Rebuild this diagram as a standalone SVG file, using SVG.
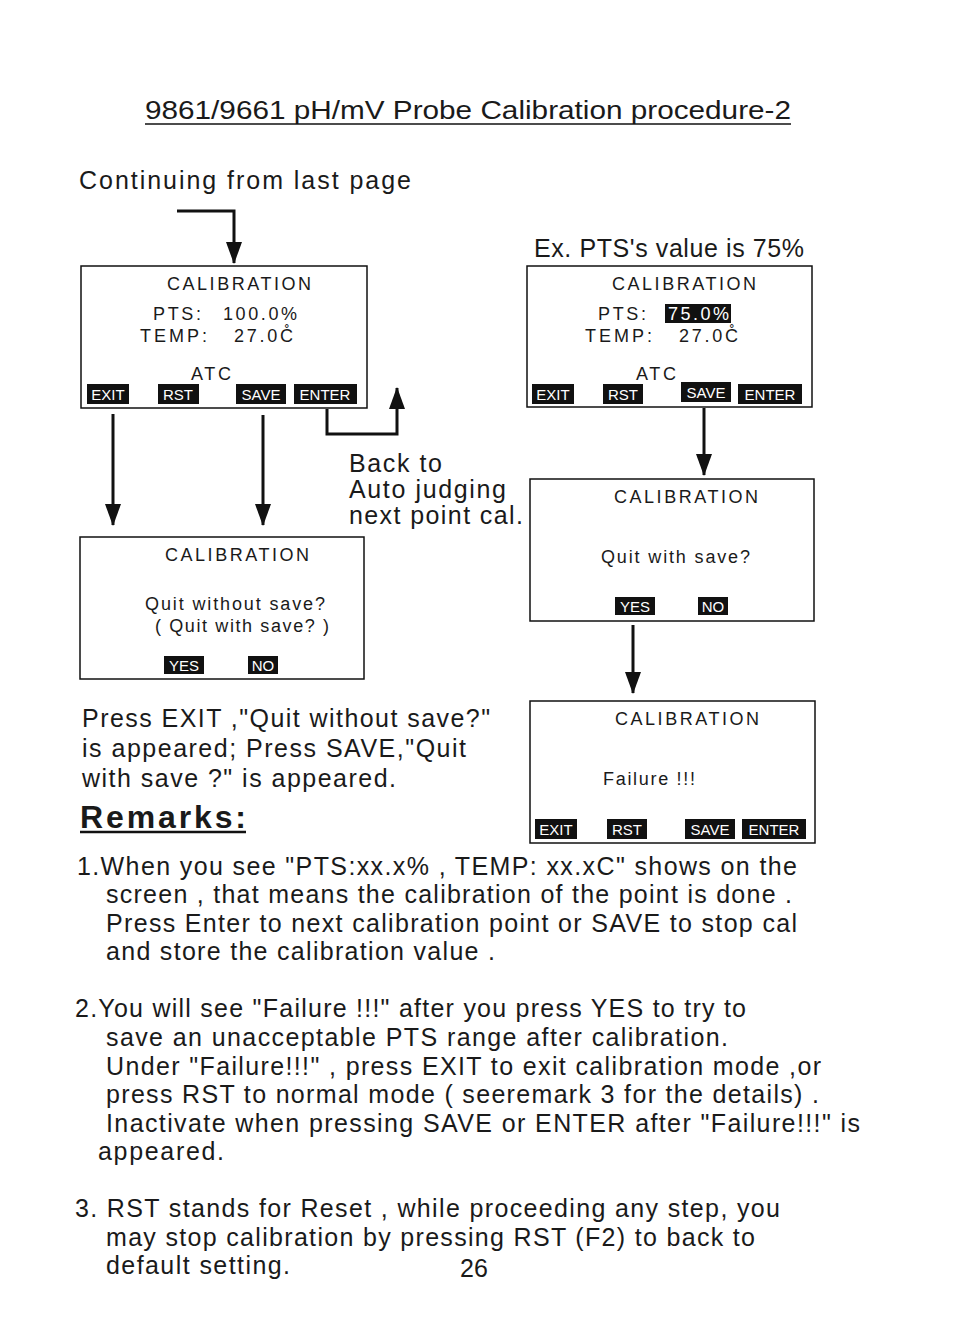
<svg xmlns="http://www.w3.org/2000/svg" width="954" height="1344" viewBox="0 0 954 1344">
<defs>
<marker id="ah" viewBox="0 0 22 16" refX="21" refY="8" markerWidth="22" markerHeight="16" markerUnits="userSpaceOnUse" orient="auto">
<path d="M0,0 L22,8 L0,16 z" fill="#111"/>
</marker>
<style>
text{font-family:"Liberation Sans",Arial,sans-serif;fill:#1a1a1a}
.big{font-size:25px}
.lcd{font-size:18px}
.btn{font-size:15px;fill:#fff;text-anchor:middle}
.bb{fill:#111}
.box{fill:#fff;stroke:#111;stroke-width:1.5}
.con{fill:none;stroke:#111;stroke-width:3}
</style>
</defs>
<rect width="954" height="1344" fill="#fff"/>

<g id="title">
<text x="145" y="119" class="big" textLength="646" lengthAdjust="spacingAndGlyphs">9861/9661 pH/mV  Probe Calibration procedure-2</text>
<line x1="145" y1="124" x2="791" y2="124" stroke="#111" stroke-width="1.5"/>
<text x="79" y="189" class="big" textLength="332">Continuing from last page</text>
</g>

<g id="connectors">
<path class="con" d="M177,211 H234 V263" marker-end="url(#ah)"/>
<path class="con" d="M113,414 V525" marker-end="url(#ah)"/>
<path class="con" d="M263,415 V525" marker-end="url(#ah)"/>
<path class="con" d="M327,409 V434 H397 V388" marker-end="url(#ah)"/>
<path class="con" d="M704,408 V475" marker-end="url(#ah)"/>
<path class="con" d="M633,625 V693" marker-end="url(#ah)"/>
</g>

<g id="box1">
<rect class="box" x="81" y="266" width="286" height="142"/>
<text x="167" y="290" class="lcd" textLength="144">CALIBRATION</text>
<text x="153" y="320" class="lcd" textLength="48">PTS:</text>
<text x="223" y="320" class="lcd" textLength="74">100.0%</text>
<text x="140" y="342" class="lcd" textLength="67">TEMP:</text>
<text x="234" y="342" class="lcd" textLength="59">27.0C&#778;</text>
<text x="191" y="380" class="lcd" textLength="40">ATC</text>
<rect class="bb" x="87" y="384" width="42" height="20"/><text class="btn" x="108" y="400">EXIT</text>
<rect class="bb" x="158" y="384" width="41" height="20"/><text class="btn" x="178" y="400">RST</text>
<rect class="bb" x="236" y="384" width="50" height="20"/><text class="btn" x="261" y="400">SAVE</text>
<rect class="bb" x="294" y="384" width="63" height="20"/><text class="btn" x="325" y="400">ENTER</text>
</g>

<g id="backto">
<text x="349" y="472" class="big" textLength="93">Back to</text>
<text x="349" y="498" class="big" textLength="157">Auto judging</text>
<text x="349" y="524" class="big" textLength="174">next point cal.</text>
</g>

<g id="box2">
<rect class="box" x="80" y="537" width="284" height="142"/>
<text x="165" y="561" class="lcd" textLength="144">CALIBRATION</text>
<text x="145" y="610" class="lcd" textLength="180">Quit without save?</text>
<text x="155" y="632" class="lcd" textLength="174">( Quit with save? )</text>
<rect class="bb" x="164" y="656" width="40" height="18"/><text class="btn" x="184" y="671">YES</text>
<rect class="bb" x="248" y="656" width="30" height="18"/><text class="btn" x="263" y="671">NO</text>
</g>

<g id="box3">
<text x="534" y="257" class="big" textLength="270">Ex. PTS's value is 75%</text>
<rect class="box" x="527" y="266" width="285" height="141"/>
<text x="612" y="290" class="lcd" textLength="144">CALIBRATION</text>
<text x="598" y="320" class="lcd" textLength="48">PTS:</text>
<rect class="bb" x="665" y="304" width="66" height="19"/>
<text x="668" y="320" class="lcd" style="fill:#fff" textLength="61">75.0%</text>
<text x="585" y="342" class="lcd" textLength="67">TEMP:</text>
<text x="679" y="342" class="lcd" textLength="59">27.0C&#778;</text>
<text x="636" y="380" class="lcd" textLength="40">ATC</text>
<rect class="bb" x="532" y="384" width="42" height="20"/><text class="btn" x="553" y="400">EXIT</text>
<rect class="bb" x="603" y="384" width="40" height="20"/><text class="btn" x="623" y="400">RST</text>
<rect class="bb" x="681" y="382" width="50" height="20"/><text class="btn" x="706" y="398">SAVE</text>
<rect class="bb" x="738" y="384" width="64" height="20"/><text class="btn" x="770" y="400">ENTER</text>
</g>

<g id="box4">
<rect class="box" x="530" y="479" width="284" height="142"/>
<text x="614" y="503" class="lcd" textLength="144">CALIBRATION</text>
<text x="601" y="563" class="lcd" textLength="149">Quit with save?</text>
<rect class="bb" x="615" y="597" width="40" height="18"/><text class="btn" x="635" y="612">YES</text>
<rect class="bb" x="698" y="597" width="30" height="18"/><text class="btn" x="713" y="612">NO</text>
</g>

<g id="box5">
<rect class="box" x="530" y="701" width="285" height="142"/>
<text x="615" y="725" class="lcd" textLength="144">CALIBRATION</text>
<text x="603" y="785" class="lcd" textLength="92">Failure !!!</text>
<rect class="bb" x="535" y="819" width="42" height="20"/><text class="btn" x="556" y="835">EXIT</text>
<rect class="bb" x="607" y="819" width="40" height="20"/><text class="btn" x="627" y="835">RST</text>
<rect class="bb" x="685" y="819" width="50" height="20"/><text class="btn" x="710" y="835">SAVE</text>
<rect class="bb" x="742" y="819" width="64" height="20"/><text class="btn" x="774" y="835">ENTER</text>
</g>

<g id="note">
<text x="82" y="727" class="big" textLength="408">Press EXIT ,"Quit without save?"</text>
<text x="82" y="757" class="big" textLength="384">is appeared; Press SAVE,"Quit</text>
<text x="82" y="787" class="big" textLength="314">with save ?" is appeared.</text>
</g>

<g id="remarks">
<text x="80" y="828" style="font-size:32px;font-weight:bold" textLength="166">Remarks:</text>
<line x1="80" y1="832" x2="246" y2="832" stroke="#111" stroke-width="2.5"/>
<text x="77" y="875" class="big" textLength="720">1.When you see "PTS:xx.x% , TEMP: xx.xC" shows on the</text>
<text x="106" y="903" class="big" textLength="686">screen , that means the calibration of the point is done .</text>
<text x="106" y="932" class="big" textLength="691">Press Enter to next calibration point or SAVE to stop cal</text>
<text x="106" y="960" class="big" textLength="389">and store the calibration value .</text>
<text x="75" y="1017" class="big" textLength="671">2.You will see "Failure !!!" after you press YES to try to</text>
<text x="106" y="1046" class="big" textLength="622">save an unacceptable PTS range after calibration.</text>
<text x="106" y="1075" class="big" textLength="715">Under "Failure!!!" , press EXIT to exit calibration mode ,or</text>
<text x="106" y="1103" class="big" textLength="713">press RST to normal mode ( seeremark 3 for the details) .</text>
<text x="106" y="1132" class="big" textLength="754">Inactivate when pressing SAVE or ENTER after "Failure!!!" is</text>
<text x="98" y="1160" class="big" textLength="126">appeared.</text>
<text x="75" y="1217" class="big" textLength="705">3. RST stands for Reset , while proceeding any step, you</text>
<text x="106" y="1246" class="big" textLength="649">may stop calibration by pressing RST (F2) to back to</text>
<text x="106" y="1274" class="big" textLength="184">default setting.</text>
<text x="460" y="1277" class="big">26</text>
</g>
</svg>
